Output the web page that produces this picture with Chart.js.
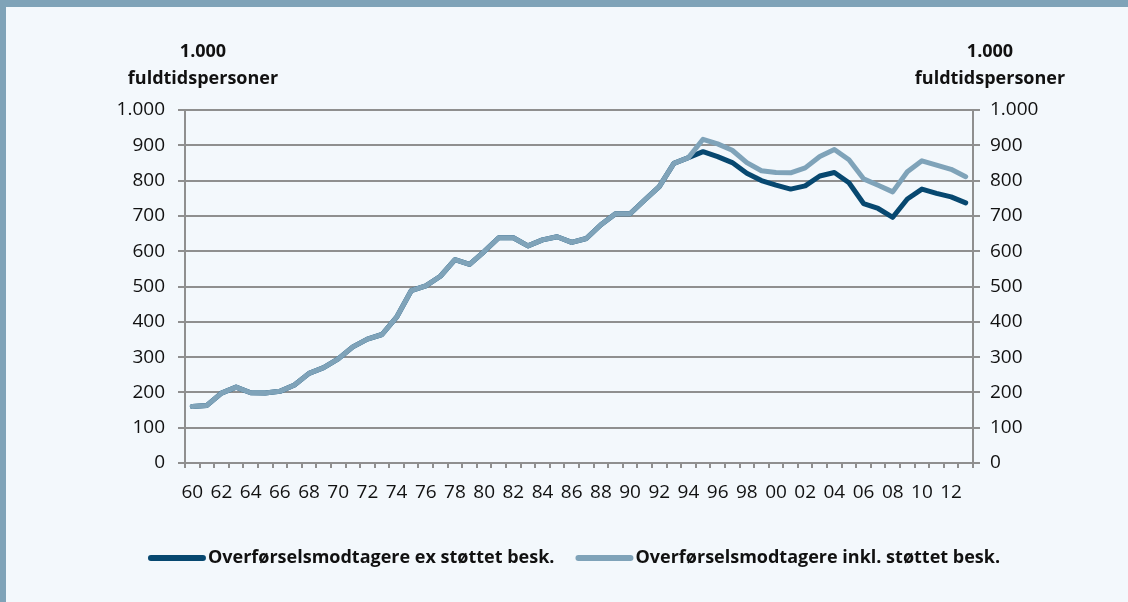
<!DOCTYPE html>
<html>
<head>
<meta charset="utf-8">
<script src="https://cdn.jsdelivr.net/npm/chart.js@4.4.1/dist/chart.umd.min.js"></script>
<style>
  html, body { margin: 0; padding: 0; background: #f3f8fc; }
  #wrap { position: relative; width: 1128px; height: 602px; overflow: hidden; }
  #topbar { position: absolute; left: 0; top: 0; width: 1128px; height: 7px; background: #7fa3b8; }
  #leftbar { position: absolute; left: 0; top: 0; width: 6px; height: 602px; background: #7fa3b8; }
  canvas { position: absolute; left: 0; top: 0; }
</style>
</head>
<body>
<div id="wrap">
  <canvas id="chart" width="1128" height="602"></canvas>
  <div id="topbar"></div>
  <div id="leftbar"></div>
</div>
<script>
/* ================= DATA ================= */
const years = [
  "60","61","62","63","64","65","66","67","68","69",
  "70","71","72","73","74","75","76","77","78","79",
  "80","81","82","83","84","85","86","87","88","89",
  "90","91","92","93","94","95","96","97","98","99",
  "00","01","02","03","04","05","06","07","08","09",
  "10","11","12","13"
];

// Overførselsmodtagere ex støttet besk. (1.000 fuldtidspersoner)
const exStottet = [
  160, 163, 198, 215, 199, 198, 203, 221, 254, 270,
  295, 329, 351, 364, 413, 488, 502, 529, 576, 563,
  599, 638, 638, 615, 632, 641, 625, 636, 675, 706,
  706, 745, 783, 849, 865, 882, 868, 851, 821, 800,
  787, 776, 785, 813, 823, 794, 735, 721, 696, 748,
  776, 764, 754, 737
];

// Overførselsmodtagere inkl. støttet besk.
const inklStottet = [
  160, 163, 198, 215, 199, 198, 203, 221, 254, 270,
  295, 329, 351, 364, 413, 488, 502, 529, 576, 563,
  599, 638, 638, 615, 632, 641, 625, 636, 675, 706,
  706, 745, 783, 849, 865, 917, 904, 886, 851, 828,
  823, 822, 836, 868, 888, 859, 805, 787, 768, 825,
  856, 844, 832, 811
];

const seriesNames = [
  "Overførselsmodtagere ex støttet besk.",
  "Overførselsmodtagere inkl. støttet besk."
];
const axisTitle = ["1.000", "fuldtidspersoner"];

const DARK = "#074870";
const LIGHT = "#7fa3b9";
const GRID = "#8f8f8f";
const FONT = "'Open Sans', sans-serif";

const fmt = v => String(v).replace(/\B(?=(\d{3})+(?!\d))/g, ".");

/* ================= AXIS TITLES + LEGEND ================= */
const extras = {
  id: "extras",
  afterDraw(chart) {
    const { ctx, chartArea } = chart;
    ctx.save();
    ctx.fillStyle = "#111";
    ctx.font = "bold 18px " + FONT;
    ctx.textAlign = "center";
    ctx.textBaseline = "middle";
    [chartArea.left + 18, chartArea.right + 17].forEach(x => {
      ctx.fillText(axisTitle[0], x, 52);
      ctx.fillText(axisTitle[1], x, 79);
    });

    // legend: line sample, small gap, text
    const metas = chart.data.datasets;
    const lineW = 58, gap = 2, itemGap = 21, y = 558;
    ctx.font = "bold 18px " + FONT;
    const widths = metas.map(d => ctx.measureText(d.label).width);
    const total = widths.reduce((s, w) => s + lineW + gap + w, 0) + itemGap * (metas.length - 1);
    let x = 574 - total / 2;
    ctx.textAlign = "left";
    metas.forEach((d, i) => {
      ctx.strokeStyle = d.borderColor;
      ctx.lineWidth = 6;
      ctx.lineCap = "round";
      ctx.beginPath();
      ctx.moveTo(x + 3, y);
      ctx.lineTo(x + lineW - 3, y);
      ctx.stroke();
      x += lineW + gap;
      ctx.fillText(d.label, x, y);
      x += widths[i] + itemGap;
    });
    ctx.restore();
  }
};

const yTicks = {
  color: "#111",
  font: { family: FONT, size: 19 },
  stepSize: 100,
  callback: v => fmt(v)
};

new Chart(document.getElementById("chart"), {
  type: "line",
  data: {
    labels: years,
    datasets: [
      {
        label: seriesNames[0],
        data: exStottet,
        borderColor: DARK,
        borderWidth: 5,
        pointRadius: 0,
        tension: 0,
        borderCapStyle: "round",
        borderJoinStyle: "round",
        order: 1
      },
      {
        label: seriesNames[1],
        data: inklStottet,
        borderColor: LIGHT,
        borderWidth: 5,
        pointRadius: 0,
        tension: 0,
        borderCapStyle: "round",
        borderJoinStyle: "round",
        order: 0
      }
    ]
  },
  options: {
    responsive: false,
    animation: false,
    devicePixelRatio: 1,
    layout: { padding: { top: 110, left: 22, right: 0, bottom: 72 } },
    plugins: {
      tooltip: { enabled: false },
      legend: { display: false }
    },
    scales: {
      x: {
        offset: true,
        grid: { offset: true, drawOnChartArea: false, tickLength: 5, color: GRID, lineWidth: 2 },
        border: { color: GRID, width: 2 },
        ticks: {
          color: "#111",
          font: { family: FONT, size: 19 },
          autoSkip: false,
          maxRotation: 0,
          padding: 13,
          callback: (v, i) => (i % 2 === 0 ? years[i] : "")
        },
        afterFit: s => { s.height = 67; }
      },
      y: {
        position: "left",
        min: 0,
        max: 1000,
        grid: { color: GRID, lineWidth: 2, tickLength: 7 },
        border: { color: GRID, width: 2 },
        ticks: { ...yTicks, padding: 13 },
        afterFit: s => { s.width = 163; }
      },
      y2: {
        position: "right",
        min: 0,
        max: 1000,
        grid: { drawOnChartArea: false, color: GRID, lineWidth: 2, tickLength: 7 },
        border: { color: GRID, width: 2 },
        ticks: { ...yTicks, padding: 10 },
        afterFit: s => { s.width = 155; }
      }
    }
  },
  plugins: [extras]
});
</script>
</body>
</html>
